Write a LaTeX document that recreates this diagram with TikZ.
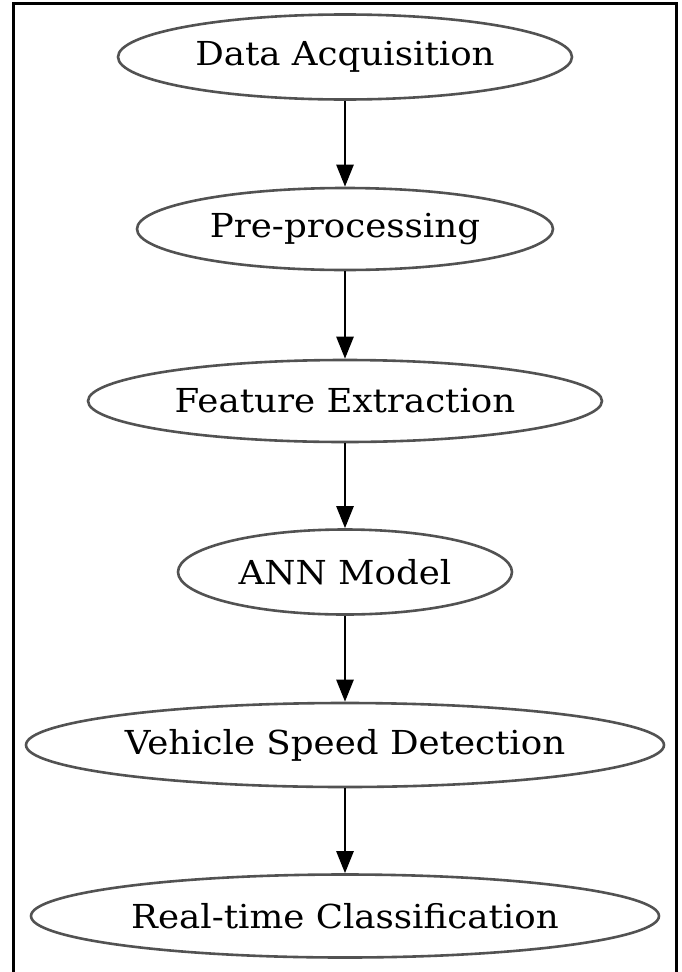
\documentclass[tikz,border=0pt]{standalone}
\usepackage{fontspec}
\setmainfont{DejaVu Serif}
\usetikzlibrary{shapes.geometric,arrows.meta}
\begin{document}
\begin{tikzpicture}[x=1pt,y=-1pt,
  stage/.style={ellipse,draw=black!68,line width=2.6pt,inner sep=0pt,
    font=\fontsize{33}{36}\selectfont,text=black},
  flow/.style={draw=black,line width=2.6pt,
    -{Triangle[length=22pt,width=17pt]}}]
  \useasboundingbox (0,0) rectangle (681,972);
  % frame: left, top and right edges
  \draw[line width=3pt,line cap=rect] (13.5,972) -- (13.5,3.5) -- (676,3.5) -- (676,972);

  \node[stage,minimum width=454pt,minimum height=85pt] (acq) at (345,57)
    {\scalebox{1.08}[1]{Data Acquisition}};
  \node[stage,minimum width=416pt,minimum height=82pt] (pre) at (345,229)
    {\scalebox{1.08}[1]{Pre-processing}};
  \node[stage,minimum width=514pt,minimum height=82pt] (feat) at (345,401)
    {\scalebox{1.08}[1]{Feature Extraction}};
  \node[stage,minimum width=334pt,minimum height=85pt] (ann) at (345,572)
    {\scalebox{1.08}[1]{ANN Model}};
  \node[stage,minimum width=638pt,minimum height=84pt] (speed) at (345,745)
    {\scalebox{1.08}[1]{Vehicle Speed Detection}};
  \node[stage,minimum width=628pt,minimum height=83pt] (cls) at (345,916)
    {\scalebox{1.08}[1]{Real-time Classification}};

  \draw[flow] (acq.south) -- (pre.north);
  \draw[flow] (pre.south) -- (feat.north);
  \draw[flow] (feat.south) -- (ann.north);
  \draw[flow] (ann.south) -- (speed.north);
  \draw[flow] (speed.south) -- (cls.north);
\end{tikzpicture}
\end{document}
